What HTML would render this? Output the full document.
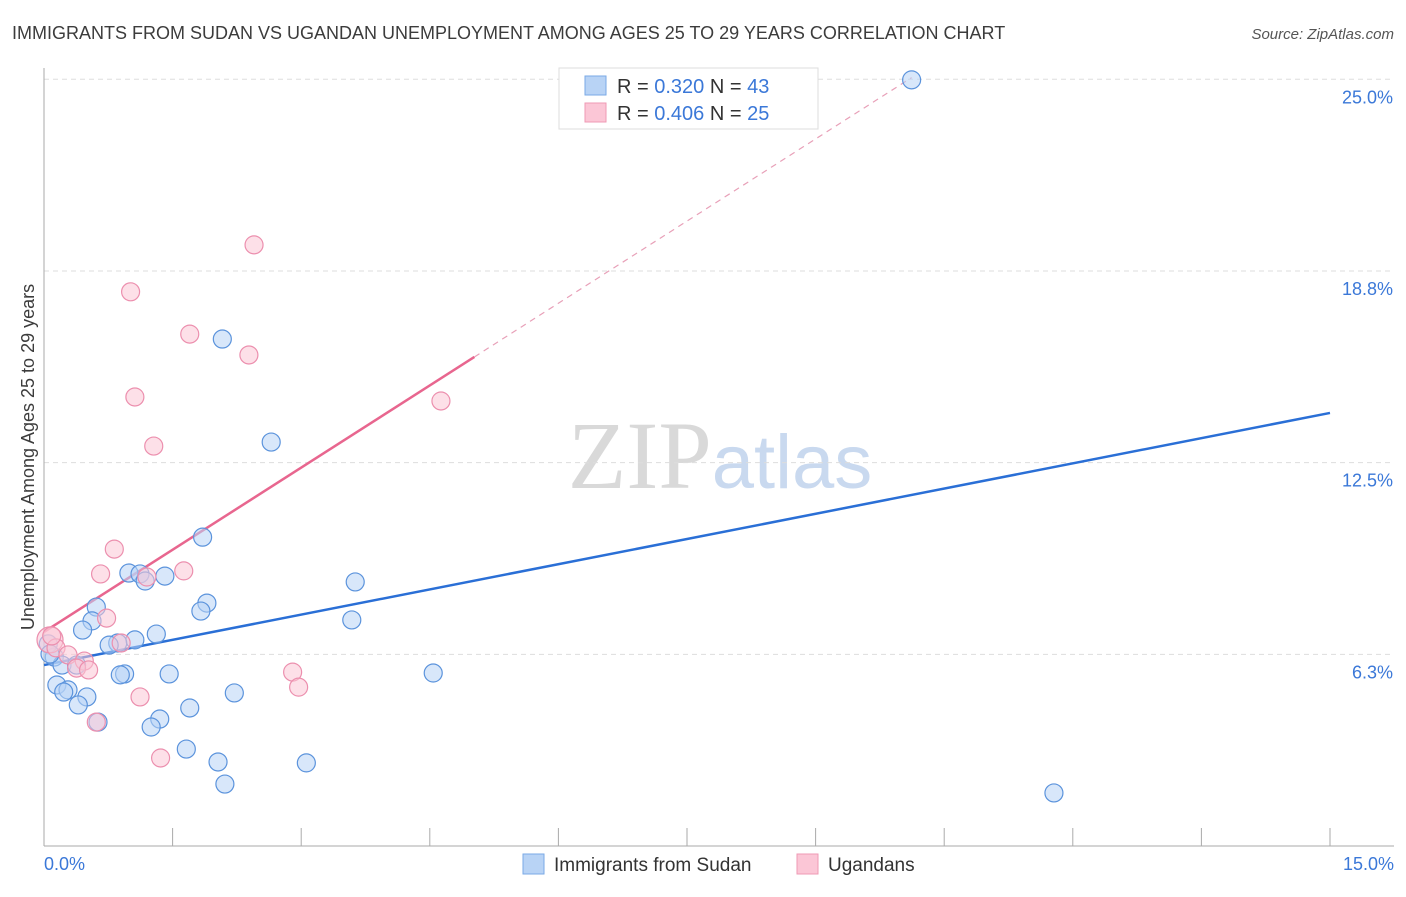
<!DOCTYPE html>
<html><head><meta charset="utf-8"><style>
body{margin:0;background:#fff;font-family:"Liberation Sans",sans-serif;}
</style></head><body>
<svg id="chart" width="1406" height="892" xmlns="http://www.w3.org/2000/svg" font-family="Liberation Sans, sans-serif">
<text x="12" y="39" font-size="18" fill="#3c3c3c">IMMIGRANTS FROM SUDAN VS UGANDAN UNEMPLOYMENT AMONG AGES 25 TO 29 YEARS CORRELATION CHART</text>
<text x="1394" y="39" font-size="15" fill="#555" text-anchor="end" font-style="italic">Source: ZipAtlas.com</text>
<text x="720" y="488" font-size="96" text-anchor="middle"><tspan font-family="Liberation Serif, serif" fill="#d9d9d9">ZIP</tspan><tspan fill="#c9d9ef" font-size="76">atlas</tspan></text>
<text transform="translate(34,457) rotate(-90)" font-size="18" fill="#3c3c3c" text-anchor="middle">Unemployment Among Ages 25 to 29 years</text>
<g id="grid"></g><g id="axes"></g><g id="trends"></g><g id="pts"></g>
<g>
<rect x="559" y="68" width="259" height="61" fill="#fff" stroke="#ddd"/>
<rect x="585" y="76" width="21" height="19" fill="#b8d3f5" stroke="#7aa9e6"/>
<rect x="585" y="103" width="21" height="19" fill="#fbc6d6" stroke="#ef9ab4"/>
<text x="617" y="93" font-size="20" fill="#333">R = <tspan fill="#3b78d8">0.320</tspan>   N = <tspan fill="#3b78d8">43</tspan></text>
<text x="617" y="120" font-size="20" fill="#333">R = <tspan fill="#3b78d8">0.406</tspan>   N = <tspan fill="#3b78d8">25</tspan></text>
</g>
<g>
<rect x="523" y="854" width="21" height="20" fill="#b8d3f5" stroke="#7aa9e6"/>
<text x="554" y="871" font-size="19" fill="#333">Immigrants from Sudan</text>
<rect x="797" y="854" width="21" height="20" fill="#fbc6d6" stroke="#ef9ab4"/>
<text x="828" y="871" font-size="19" fill="#333">Ugandans</text>
</g>
</svg>
<script>
const blueX=[10.12,2.08,2.65,1.85,3.63,0.99,1.12,1.18,1.41,1.90,1.83,0.61,0.56,0.45,3.59,1.31,1.06,0.86,0.76,0.12,0.21,0.38,0.94,0.89,1.46,4.54,0.15,0.28,0.23,0.50,2.22,0.40,1.70,1.35,0.63,1.25,1.66,2.03,3.06,2.11,11.78,0.05,0.07];
const blueY=[24.98,16.53,13.17,10.07,8.61,8.90,8.87,8.64,8.80,7.92,7.66,7.79,7.34,7.04,7.37,6.91,6.72,6.62,6.55,6.16,5.90,5.90,5.61,5.58,5.61,5.64,5.25,5.09,5.02,4.86,4.99,4.60,4.50,4.14,4.04,3.88,3.16,2.74,2.71,2.02,1.73,6.59,6.26];
const pinkX=[2.45,1.01,1.70,2.39,1.06,4.63,1.28,0.82,0.66,1.63,1.20,0.73,0.90,0.07,0.14,0.28,0.47,0.38,0.52,2.90,2.97,1.12,0.61,1.36,0.09];
const pinkY=[19.60,18.07,16.69,16.01,14.64,14.51,13.04,9.68,8.87,8.97,8.77,7.43,6.62,6.72,6.46,6.23,6.03,5.80,5.74,5.67,5.18,4.86,4.04,2.87,6.85];
const blueTrend=[5.90,14.12]; // y at x=0 and x=15
const pinkTrend=[6.98,1.786]; // intercept, slope
const pinkSolidEnd=5.02, pinkDashEnd=10.12;
const yTicks=[6.3,12.5,18.8,25.0];
const yTickLabels=["6.3%","12.5%","18.8%","25.0%"];
const xTicks=[0,1.5,3,4.5,6,7.5,9,10.5,12,13.5,15];
const NS="http://www.w3.org/2000/svg";
const sx=v=>44+v*(1286/15), sy=v=>846-v*30.67;
function mk(tag,parent,attrs){const e=document.createElementNS(NS,tag);for(const k in attrs)e.setAttribute(k,attrs[k]);document.getElementById(parent).appendChild(e);return e;}
yTicks.forEach((t,i)=>{
 const l=mk('line','grid',{x1:44,x2:1394,y1:sy(t===25?25:t===18.8?18.75:t===12.5?12.5:6.25),y2:sy(t===25?25:t===18.8?18.75:t===12.5?12.5:6.25),stroke:'#ddd','stroke-dasharray':'5,4'});
 
 
 const tx=mk('text','grid',{x:1393,y:sy(t===25?25:t===18.8?18.75:t===12.5?12.5:6.25)+24,'text-anchor':'end','font-size':18,fill:'#3b78d8'});
 tx.textContent=yTickLabels[i];
 
 
});
const ya=mk('line','axes',{x1:44,x2:44,y1:68,y2:846,stroke:'#aaa'});


const xa=mk('line','axes',{x1:44,x2:1394,y1:846,y2:846,stroke:'#aaa'});


xTicks.forEach(t=>{const l=mk('line','axes',{x1:sx(t),x2:sx(t),y1:828,y2:846,stroke:'#aaa'});
 
 });
const x0=mk('text','axes',{x:44,y:870,'font-size':18,fill:'#3b78d8'});x0.textContent='0.0%';


const x1=mk('text','axes',{x:1394,y:870,'font-size':18,fill:'#3b78d8','text-anchor':'end'});x1.textContent='15.0%';


function dot(x,y,fill,stroke,r,name){const c=mk('circle','pts',{cx:sx(x),cy:sy(y),r:r,fill:fill,'fill-opacity':0.55,stroke:stroke,'stroke-width':1.2});
 
 }
blueX.forEach((x,i)=>dot(x,blueY[i],'#b8d3f5','#5b93dc',9,'sudan-point'));
pinkX.forEach((x,i)=>dot(x,pinkY[i],'#fbc6d6','#ec8fae',i===13?13:9,'ugandan-point'));
const bt=mk('line','trends',{x1:sx(0),y1:sy(blueTrend[0]),x2:sx(15),y2:sy(blueTrend[1]),stroke:'#2a6fd6','stroke-width':2.5});


const pt=mk('line','trends',{x1:sx(0),y1:sy(pinkTrend[0]),x2:sx(pinkSolidEnd),y2:sy(pinkTrend[0]+pinkTrend[1]*pinkSolidEnd),stroke:'#e8668f','stroke-width':2.5});


const pd=mk('line','trends',{x1:sx(pinkSolidEnd),y1:sy(pinkTrend[0]+pinkTrend[1]*pinkSolidEnd),x2:sx(pinkDashEnd),y2:sy(pinkTrend[0]+pinkTrend[1]*pinkDashEnd),stroke:'#e8a0b8','stroke-width':1.2,'stroke-dasharray':'6,5'});


</script>
</body></html>
